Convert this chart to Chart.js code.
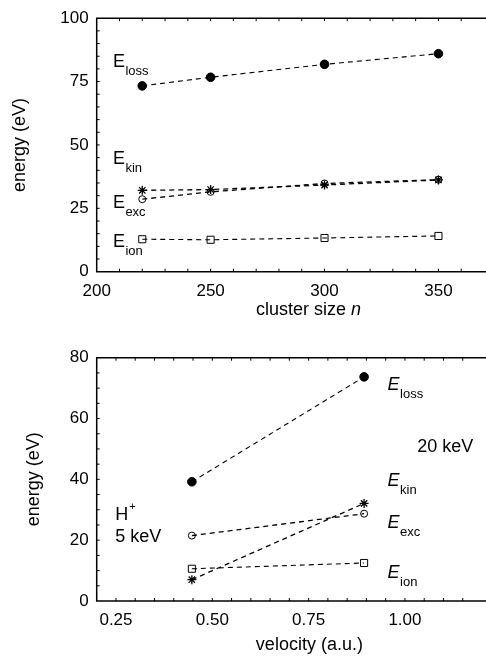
<!DOCTYPE html>
<html>
<head>
<meta charset="utf-8">
<script src="https://cdn.jsdelivr.net/npm/chart.js@4.4.1/dist/chart.umd.min.js"></script>
<style>
html, body { margin: 0; padding: 0; background: #fff; overflow: hidden; }
#wrap { position: relative; width: 486px; height: 657px; overflow: hidden; }
#topBox { position: absolute; left: 0; top: 0; width: 490px; height: 325px; }
#bottomBox { position: absolute; left: 0; top: 325px; width: 488px; height: 332px; }
</style>
</head>
<body>
<div id="wrap">
  <div id="topBox"><canvas id="topChart"></canvas></div>
  <div id="bottomBox"><canvas id="bottomChart"></canvas></div>
</div>
<script>
// upper panel: energies vs cluster size
const clusterSizes = [220, 250, 300, 350];
const lossTop = [73.3, 76.7, 81.8, 86.0];
const kinTop = [32.1, 32.4, 34.2, 36.2];
const excTop = [28.6, 31.5, 34.8, 36.3];
const ionTop = [12.8, 12.6, 13.3, 14.1];
const topXTicks = [200, 250, 300, 350];
const topYTicks = [0, 25, 50, 75, 100];

// lower panel: energies vs projectile velocity (5 keV and 20 keV)
const velocities = [0.447, 0.894];
const lossBottom = [39.2, 73.7];
const kinBottom = [7.0, 32.1];
const excBottom = [21.5, 28.7];
const ionBottom = [10.6, 12.5];
const bottomXTicks = [0.25, 0.50, 0.75, 1.00];
const bottomYTicks = [0, 20, 40, 60, 80];

const FONT = '"Liberation Sans", Arial, Helvetica, sans-serif';

function series(label, xs, ys, style) {
    return Object.assign({
        label: label,
        data: xs.map((x, i) => ({ x: x, y: ys[i] })),
        borderColor: '#000',
        borderWidth: 1.1,
        borderDash: [5, 4],
        pointBorderColor: '#000',
        pointBorderWidth: 1,
        pointBackgroundColor: 'rgba(0,0,0,0)',
        tension: 0,
        fill: false
    }, style);
}

function makeDatasets(xs, loss, kin, exc, ion) {
    return [
        series('E_ion', xs, ion, { pointStyle: 'rect', pointRadius: 5 }),
        series('E_exc', xs, exc, { pointStyle: 'circle', pointRadius: 3.5, borderWidth: 1.3 }),
        series('E_kin', xs, kin, { pointStyle: 'star', pointRadius: 4.5, pointBorderWidth: 1.3, borderWidth: 1.3 }),
        series('E_loss', xs, loss, { pointStyle: 'circle', pointRadius: 4.3, pointBackgroundColor: '#000' })
    ];
}

// draws the frame, inward minor ticks and the text labels
const framePlugin = {
    id: 'frame',
    afterDraw(chart, args, opts) {
        const ctx = chart.ctx;
        const a = chart.chartArea;
        const xs = chart.scales.x, ys = chart.scales.y;
        ctx.save();
        ctx.strokeStyle = '#000';
        ctx.lineWidth = 1.5;
        ctx.setLineDash([]);
        ctx.beginPath();
        ctx.moveTo(a.right + 5, a.top); ctx.lineTo(a.left, a.top);
        ctx.lineTo(a.left, a.bottom); ctx.lineTo(a.right + 5, a.bottom);
        ctx.stroke();

        ctx.lineWidth = 1;
        ctx.beginPath();
        for (let v = xs.min + opts.minorX; v < xs.max; v += opts.minorX) {
            const px = xs.getPixelForValue(v);
            ctx.moveTo(px, a.bottom); ctx.lineTo(px, a.bottom - 3);
            ctx.moveTo(px, a.top); ctx.lineTo(px, a.top + 3);
        }
        for (let v = ys.min + opts.minorY; v < ys.max; v += opts.minorY) {
            const py = ys.getPixelForValue(v);
            ctx.moveTo(a.left, py); ctx.lineTo(a.left + 3, py);
        }
        ctx.stroke();

        ctx.fillStyle = '#000';
        ctx.textAlign = 'left';
        ctx.textBaseline = 'alphabetic';
        opts.labels.forEach(lab => {
            const px = xs.getPixelForValue(lab.x);
            const py = ys.getPixelForValue(lab.y);
            ctx.font = (lab.italic ? 'italic ' : '') + '18px ' + FONT;
            ctx.fillText(lab.main, px, py);
            const w = ctx.measureText(lab.main).width;
            if (lab.sub) {
                ctx.font = '13px ' + FONT;
                ctx.fillText(lab.sub, px + w + 0.5, py + 8);
            }
            if (lab.sup) {
                ctx.font = '11px ' + FONT;
                ctx.fillText(lab.sup, px + w + 1, py - 10);
            }
        });

        // x axis title, with italic part
        const t = opts.xTitle;
        ctx.textBaseline = 'middle';
        ctx.font = '18px ' + FONT;
        const w1 = ctx.measureText(t.text).width;
        ctx.font = 'italic 18px ' + FONT;
        const w2 = t.italic ? ctx.measureText(t.italic).width : 0;
        const cx = xs.getPixelForValue(t.x);
        const cy = a.bottom + t.dy;
        let sx = cx - (w1 + w2) / 2;
        ctx.font = '18px ' + FONT;
        ctx.fillText(t.text, sx, cy);
        if (t.italic) {
            ctx.font = 'italic 18px ' + FONT;
            ctx.fillText(t.italic, sx + w1, cy);
        }
        ctx.restore();
    }
};

function makeOptions(cfg) {
    return {
        responsive: true,
        maintainAspectRatio: false,
        animation: false,
        layout: { padding: { top: cfg.padTop, left: 0, right: 0, bottom: 0 } },
        plugins: {
            legend: { display: false },
            tooltip: { enabled: false },
            frame: {
                minorX: cfg.minorX,
                minorY: cfg.minorY,
                labels: cfg.labels,
                xTitle: cfg.xTitle
            }
        },
        scales: {
            x: {
                type: 'linear',
                min: cfg.xMin,
                max: cfg.xMax,
                grid: { display: false, drawTicks: false },
                border: { display: false },
                afterBuildTicks: s => { s.ticks = cfg.xTicks.map(v => ({ value: v })); },
                afterFit: s => { s.height = cfg.xAxisHeight; },
                ticks: {
                    padding: 9,
                    color: '#000',
                    autoSkip: false,
                    maxRotation: 0,
                    font: { family: FONT, size: 17 },
                    callback: cfg.xFormat
                }
            },
            y: {
                type: 'linear',
                min: cfg.yMin,
                max: cfg.yMax,
                grid: { display: false, drawTicks: false },
                border: { display: false },
                afterBuildTicks: s => { s.ticks = cfg.yTicks.map(v => ({ value: v })); },
                afterFit: s => { s.width = 96.7; },
                ticks: {
                    padding: 8,
                    color: '#000',
                    font: { family: FONT, size: 17 }
                },
                title: {
                    display: true,
                    text: 'energy (eV)',
                    color: '#000',
                    font: { family: FONT, size: 18 },
                    padding: { top: cfg.yTitlePad, bottom: 0 }
                }
            }
        }
    };
}

new Chart(document.getElementById('topChart'), {
    type: 'line',
    data: { datasets: makeDatasets(clusterSizes, lossTop, kinTop, excTop, ionTop) },
    options: makeOptions({
        padTop: 15.7,
        xMin: 200, xMax: 370, yMin: 0, yMax: 100,
        xTicks: topXTicks, yTicks: topYTicks,
        xAxisHeight: 53.3,
        yTitlePad: 9,
        minorX: 10, minorY: 5,
        xFormat: v => String(v),
        xTitle: { text: 'cluster size ', italic: 'n', x: 293, dy: 38 },
        labels: [
            { x: 207.1, y: 80.9, main: 'E', sub: 'loss' },
            { x: 207.1, y: 42.6, main: 'E', sub: 'kin' },
            { x: 207.1, y: 25.0, main: 'E', sub: 'exc' },
            { x: 207.1, y: 9.8, main: 'E', sub: 'ion' }
        ]
    }),
    plugins: [framePlugin]
});

new Chart(document.getElementById('bottomChart'), {
    type: 'line',
    data: { datasets: makeDatasets(velocities, lossBottom, kinBottom, excBottom, ionBottom) },
    options: makeOptions({
        padTop: 32.7,
        xMin: 0.2, xMax: 1.2, yMin: 0, yMax: 80,
        xTicks: bottomXTicks, yTicks: bottomYTicks,
        xAxisHeight: 56,
        yTitlePad: 23,
        minorX: 0.05, minorY: 5,
        xFormat: v => v.toFixed(2),
        xTitle: { text: 'velocity (a.u.)', italic: '', x: 0.752, dy: 44 },
        labels: [
            { x: 0.955, y: 69.4, main: 'E', sub: 'loss', italic: true },
            { x: 0.955, y: 37.8, main: 'E', sub: 'kin', italic: true },
            { x: 0.955, y: 24.0, main: 'E', sub: 'exc', italic: true },
            { x: 0.955, y: 7.6, main: 'E', sub: 'ion', italic: true },
            { x: 1.032, y: 49.0, main: '20 keV' },
            { x: 0.248, y: 26.6, main: 'H', sup: '+' },
            { x: 0.248, y: 19.4, main: '5 keV' }
        ]
    }),
    plugins: [framePlugin]
});
</script>
</body>
</html>
